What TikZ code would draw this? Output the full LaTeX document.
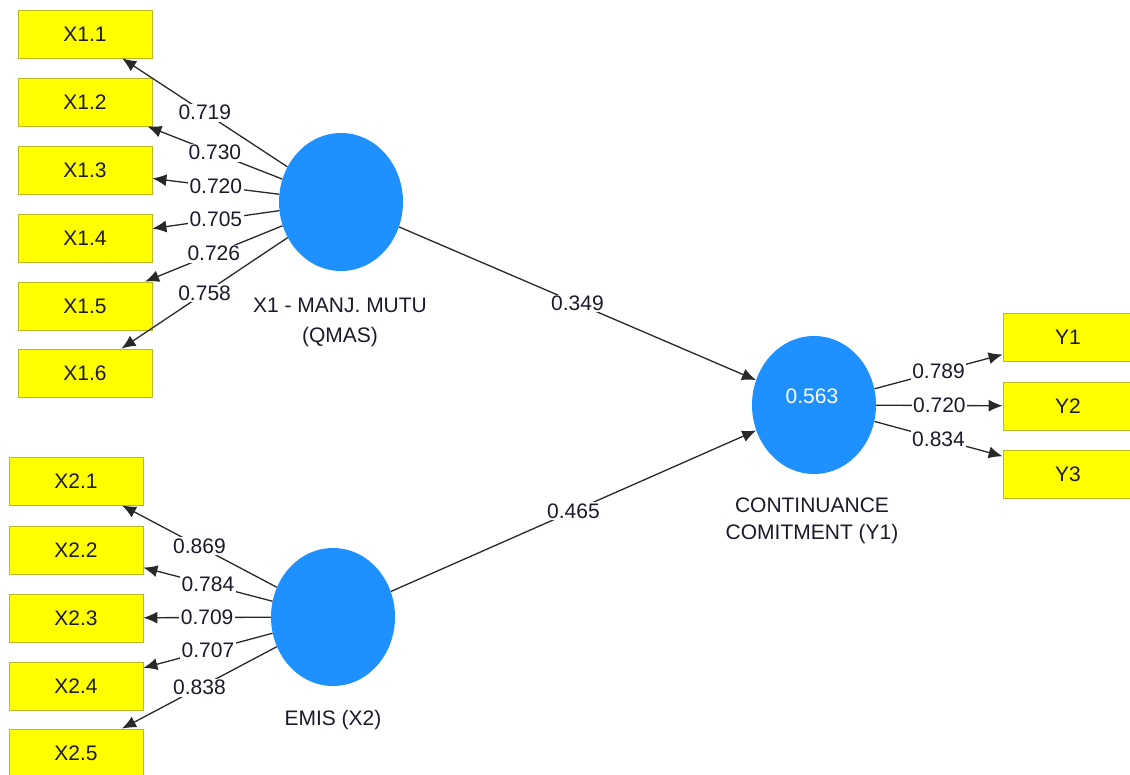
\documentclass[tikz,border=0pt]{standalone}
\usepackage{fontspec}
\setmainfont{Liberation Sans}
\usetikzlibrary{arrows.meta,shapes.geometric}
\definecolor{lvblue}{RGB}{30,144,255}
\definecolor{mvyellow}{RGB}{255,255,0}
\definecolor{mvborder}{RGB}{185,185,40}
\definecolor{txt}{RGB}{30,25,40}
\definecolor{edgec}{RGB}{40,40,40}
\begin{document}
\begin{tikzpicture}[x=1pt,y=-1pt,
  mv/.style={draw=mvborder, fill=mvyellow, line width=0.8pt, minimum width=134pt, minimum height=48pt, inner sep=0pt, text=txt, font=\fontsize{21}{25}\selectfont},
  lv/.style={ellipse, fill=lvblue, draw=none, minimum width=124pt, minimum height=138pt, inner sep=0pt, text=white, font=\fontsize{21}{25}\selectfont},
  conn/.style={draw=edgec, line width=1.3pt, -{Latex[length=14pt,width=12pt]}},
  wt/.style={fill=white, inner sep=1.5pt, text=txt, font=\fontsize{21}{25}\selectfont, pos=0.5},
  lvname/.style={text=txt, align=center, inner sep=0pt}
]
\useasboundingbox (0,0) rectangle (1130,775);
\clip (0,0) rectangle (1130,775);
\fill[white] (0,0) rectangle (1130,775);

% latent variables
\node[lv] (X1) at (341,202) {};
\node[lv] (X2) at (333,617) {};
\node[lv] (Y) at (814,405) {};
\node[text=white, font=\fontsize{21}{25}\selectfont, inner sep=0pt] (Yr2) at (812,396) {0.563};

\node[lvname, font=\fontsize{21}{30}\selectfont] (X1name) at (340,322) {X1 - MANJ. MUTU\\(QMAS)};
\node[lvname, font=\fontsize{21}{25}\selectfont] (X2name) at (333,720) {EMIS (X2)};
\node[lvname, font=\fontsize{21}{27}\selectfont] (Yname) at (812,521) {CONTINUANCE\\COMITMENT (Y1)};

% indicators X1
\node[mv] (x11) at (85,34) {X1.1};
\node[mv] (x12) at (85,102) {X1.2};
\node[mv] (x13) at (85,170) {X1.3};
\node[mv] (x14) at (85,238) {X1.4};
\node[mv] (x15) at (85,306) {X1.5};
\node[mv] (x16) at (85,373) {X1.6};

% indicators X2
\node[mv] (x21) at (76,481) {X2.1};
\node[mv] (x22) at (76,550) {X2.2};
\node[mv] (x23) at (76,618) {X2.3};
\node[mv] (x24) at (76,686) {X2.4};
\node[mv] (x25) at (76,753) {X2.5};

% indicators Y
\node[mv, minimum width=130pt] (y1) at (1068,337) {Y1};
\node[mv, minimum width=130pt] (y2) at (1068,406) {Y2};
\node[mv, minimum width=130pt] (y3) at (1068,474) {Y3};

% loadings X1
\draw[conn] (X1) -- node[wt] {0.719} (x11);
\draw[conn] (X1) -- node[wt] {0.730} (x12);
\draw[conn] (X1) -- node[wt] {0.720} (x13);
\draw[conn] (X1) -- node[wt] {0.705} (x14);
\draw[conn] (X1) -- node[wt] {0.726} (x15);
\draw[conn] (X1) -- node[wt] {0.758} (x16);

% loadings X2
\draw[conn] (X2) -- node[wt] {0.869} (x21);
\draw[conn] (X2) -- node[wt] {0.784} (x22);
\draw[conn] (X2) -- node[wt] {0.709} (x23);
\draw[conn] (X2) -- node[wt] {0.707} (x24);
\draw[conn] (X2) -- node[wt] {0.838} (x25);

% loadings Y
\draw[conn] (Y) -- node[wt] {0.789} (y1);
\draw[conn] (Y) -- node[wt] {0.720} (y2);
\draw[conn] (Y) -- node[wt] {0.834} (y3);

% path coefficients
\draw[conn] (X1) -- node[wt] {0.349} (Y);
\draw[conn] (X2) -- node[wt] {0.465} (Y);
\end{tikzpicture}
\end{document}
